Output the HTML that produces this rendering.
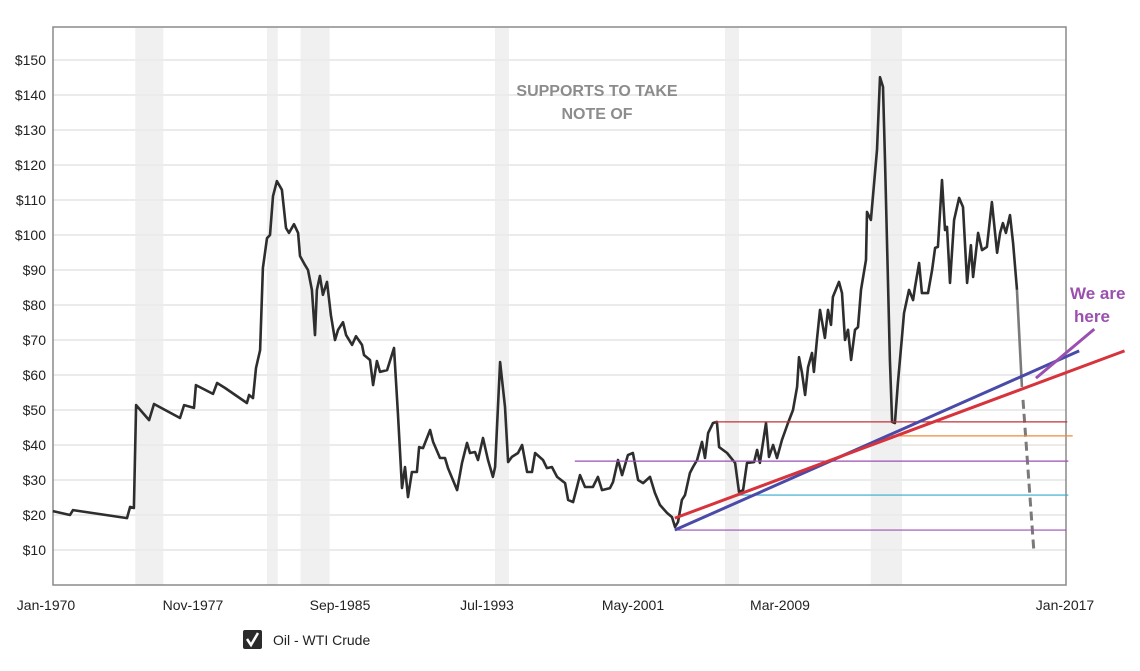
<!DOCTYPE html>
<html><head><meta charset="utf-8"><style>
html,body{margin:0;padding:0;background:#fff;}
svg{display:block;font-family:"Liberation Sans",Arial,sans-serif;}
</style></head><body>
<svg id="chart" width="1140" height="671" viewBox="0 0 1140 671" xmlns="http://www.w3.org/2000/svg">
<rect x="0" y="0" width="1140" height="671" fill="#fff"/>
<g id="bands"></g><g id="grid"></g><g id="ylabels"></g><g id="xlabels"></g>
<rect x="53" y="27" width="1013" height="558" fill="none" stroke="#8a8a8a" stroke-width="1.5"/>
<g id="series"></g><g id="annot"></g>
<text x="597" y="96" text-anchor="middle" font-size="16" font-weight="bold" fill="#8c8c8c"><tspan x="597" y="96">SUPPORTS TO TAKE</tspan><tspan x="597" y="119">NOTE OF</tspan></text>
<text x="1070" y="299" font-size="17" font-weight="bold" fill="#9b4fb0"><tspan x="1070" y="299">We are</tspan><tspan x="1074" y="322">here</tspan></text>
<g>
<rect x="243" y="630" width="19" height="19" rx="2" fill="#2b2b2b"/>
<path d="M247 639 L251 645 L258 633" stroke="#fff" stroke-width="2.5" fill="none"/>
<text x="273" y="645" font-size="14" fill="#222">Oil - WTI Crude</text>
</g>
</svg>
<script>
const yTicks=[10,20,30,40,50,60,70,80,90,100,110,120,130,140,150];
const xTickLabels=["Jan-1970","Nov-1977","Sep-1985","Jul-1993","May-2001","Mar-2009","Jan-2017"];
const xTickPos=[46,193,340,487,633,780,1065];
const recStart=[1973.9,1980.0,1981.55,1990.55,2001.2,2007.95];
const recEnd=[1975.2,1980.5,1982.9,1991.2,2001.85,2009.4];
const years=[1970.09,1970.88,1971.02,1973.52,1973.66,1973.84,1973.94,1974.54,1974.77,1975.97,1976.16,1976.62,1976.71,1977.50,1977.69,1978.06,1979.07,1979.17,1979.35,1979.49,1979.68,1979.81,1980.00,1980.14,1980.28,1980.46,1980.69,1980.88,1981.02,1981.25,1981.44,1981.53,1981.76,1981.90,1982.08,1982.22,1982.31,1982.45,1982.59,1982.78,1982.96,1983.15,1983.29,1983.52,1983.66,1983.94,1984.12,1984.40,1984.49,1984.77,1984.91,1985.09,1985.23,1985.56,1985.88,1986.06,1986.25,1986.39,1986.53,1986.71,1986.94,1987.04,1987.22,1987.55,1987.69,1988.01,1988.24,1988.38,1988.80,1989.03,1989.26,1989.40,1989.63,1989.77,1990.00,1990.23,1990.46,1990.56,1990.79,1991.02,1991.16,1991.34,1991.62,1991.81,1992.04,1992.27,1992.41,1992.78,1992.96,1993.19,1993.43,1993.80,1993.94,1994.17,1994.35,1994.49,1994.72,1995.09,1995.32,1995.51,1995.88,1996.02,1996.25,1996.44,1996.71,1996.94,1997.18,1997.41,1997.73,1997.96,1998.19,1998.52,1998.75,1998.89,1999.03,1999.21,1999.35,1999.58,1999.72,1999.91,2000.14,2000.28,2000.42,2000.65,2000.83,2000.93,2001.30,2001.67,2001.85,2002.04,2002.22,2002.55,2002.69,2002.82,2003.10,2003.24,2003.43,2003.61,2003.84,2004.12,2004.35,2004.54,2004.63,2004.77,2004.91,2005.05,2005.23,2005.32,2005.46,2005.60,2005.83,2005.97,2006.11,2006.20,2006.48,2006.62,2006.76,2006.90,2007.04,2007.22,2007.36,2007.50,2007.73,2007.78,2007.96,2008.24,2008.38,2008.52,2008.61,2008.84,2008.94,2009.07,2009.21,2009.40,2009.49,2009.72,2009.91,2010.00,2010.19,2010.32,2010.60,2010.79,2010.93,2011.06,2011.25,2011.39,2011.48,2011.62,2011.81,2012.04,2012.22,2012.41,2012.59,2012.69,2012.92,2013.10,2013.33,2013.56,2013.80,2013.94,2014.07,2014.21,2014.40,2014.54,2014.72];
const prices=[21.1,20.0,21.4,19.1,22.3,22.0,51.4,47.1,51.7,47.7,51.4,50.6,57.1,54.6,57.7,56.3,52.0,54.3,53.4,62.0,67.1,90.6,99.1,100.0,111.1,115.4,112.9,102.0,100.6,103.1,100.6,94.0,91.4,90.0,84.3,71.4,84.3,88.3,82.9,86.6,77.1,70.0,72.9,75.1,71.4,68.6,71.1,68.6,65.7,64.3,57.1,64.0,60.9,61.4,67.7,49.1,27.7,33.7,25.1,32.3,32.3,39.4,39.1,44.3,40.9,36.3,36.3,33.4,27.1,34.9,40.6,37.7,38.0,35.7,42.0,35.7,30.9,33.7,63.7,50.9,35.1,36.6,37.7,40.0,32.3,32.3,37.7,35.7,33.4,33.7,30.9,29.1,24.3,23.7,28.0,31.4,28.0,28.0,30.9,27.1,27.7,29.4,35.7,31.4,37.1,37.7,30.0,29.1,30.9,26.3,22.9,20.6,19.4,16.6,18.0,24.3,25.7,32.0,33.7,35.7,40.9,36.3,43.4,46.3,46.6,39.4,37.7,34.9,26.6,27.1,34.9,35.1,38.6,34.9,46.3,36.6,40.0,36.3,41.4,46.3,50.0,56.6,65.1,60.6,54.3,62.3,66.3,60.9,70.0,78.6,70.6,78.6,74.3,82.3,86.6,83.4,70.0,72.9,64.3,72.9,73.7,84.3,92.9,106.6,104.3,124.3,145.1,142.3,121.4,64.3,46.6,46.3,57.7,70.9,77.7,84.3,81.4,85.1,92.0,83.4,83.4,90.0,96.3,96.6,115.7,101.4,102.3,86.3,104.3,110.6,108.0,86.3,97.1,88.0,100.6,95.7,96.6,109.4,94.9,100.6,103.4,100.6,105.7,97.7,84.3];
const projSolidYears=[2014.72,2014.95];
const projSolidPrices=[84.3,56.6];
const projDashYears=[2015.0,2015.51];
const projDashPrices=[52.9,9.1];
const supportLevels=[46.6,42.6,35.4,25.7,15.7];
const supportStart=[2000.75,2008.9,1994.25,2001.85,1998.88];
const supportEnd=[2017.05,2017.3,2017.1,2017.1,2017.0];
const supportColors=["#c0303a","#f08a3c","#9b4fb0","#31aacb","#9b4fb0"];
const trendNames=["blue-trendline","red-trendline"];
const trendYears=[[1998.88,2017.6],[1998.88,2019.7]];
const trendPrices=[[15.7,66.9],[19.1,66.9]];
const trendColors=["#4a4aa8","#d6333c"];
const arrowYears=[2015.6,2018.3];
const arrowPrices=[59.1,73.1];

const NS="http://www.w3.org/2000/svg";
const X0=51,KX=21.6,Y0=585,KY=3.5,L=53,R=1066;
function xs(t){return X0+(t-1970)*KX;}
function ys(v){return Y0-v*KY;}
function mk(tag,attrs,parent){const e=document.createElementNS(NS,tag);for(const k in attrs)e.setAttribute(k,attrs[k]);parent.appendChild(e);return e;}
const bands=document.getElementById('bands'),grid=document.getElementById('grid'),yl=document.getElementById('ylabels'),xl=document.getElementById('xlabels'),ser=document.getElementById('series'),an=document.getElementById('annot');
recStart.forEach((s,i)=>{const e=mk('rect',{x:xs(s),y:28,width:xs(recEnd[i])-xs(s),height:557,fill:'#f0f0f0'},bands);

});
yTicks.forEach(v=>{const g=mk('line',{x1:L,x2:R,y1:ys(v),y2:ys(v),stroke:'#ebebeb','stroke-width':2},grid);


const t=mk('text',{x:46,y:ys(v)+5,'text-anchor':'end','font-size':14,fill:'#222'},yl);t.textContent='$'+v;

});
xTickLabels.forEach((s,i)=>{const t=mk('text',{x:xTickPos[i],y:610,'text-anchor':'middle','font-size':14,fill:'#222'},xl);t.textContent=s;

});
const d=years.map((t,i)=>(i?'L':'M')+xs(t).toFixed(1)+' '+ys(prices[i]).toFixed(1)).join(' ');
const p=mk('path',{d:d,fill:'none',stroke:'#2e2e2e','stroke-width':2.6,'stroke-linejoin':'round'},ser);


const ps=mk('path',{d:'M'+xs(projSolidYears[0])+' '+ys(projSolidPrices[0])+' L'+xs(projSolidYears[1])+' '+ys(projSolidPrices[1]),stroke:'#7a7a7a','stroke-width':2.6,fill:'none'},ser);


const pd=mk('path',{d:'M'+xs(projDashYears[0])+' '+ys(projDashPrices[0])+' L'+xs(projDashYears[1])+' '+ys(projDashPrices[1]),stroke:'#7a7a7a','stroke-width':3,'stroke-dasharray':'9 5',fill:'none'},ser);


supportLevels.forEach((v,i)=>{const l=mk('line',{x1:xs(supportStart[i]),x2:xs(supportEnd[i]),y1:ys(v),y2:ys(v),stroke:supportColors[i],'stroke-width':1.2},an);

});
trendYears.forEach((ty,i)=>{const l=mk('line',{x1:xs(ty[0]),x2:xs(ty[1]),y1:ys(trendPrices[i][0]),y2:ys(trendPrices[i][1]),stroke:trendColors[i],'stroke-width':3},an);

});
const a=mk('line',{x1:xs(arrowYears[0]),x2:xs(arrowYears[1]),y1:ys(arrowPrices[0]),y2:ys(arrowPrices[1]),stroke:'#9b4fb0','stroke-width':3},an);


</script>
</body></html>
